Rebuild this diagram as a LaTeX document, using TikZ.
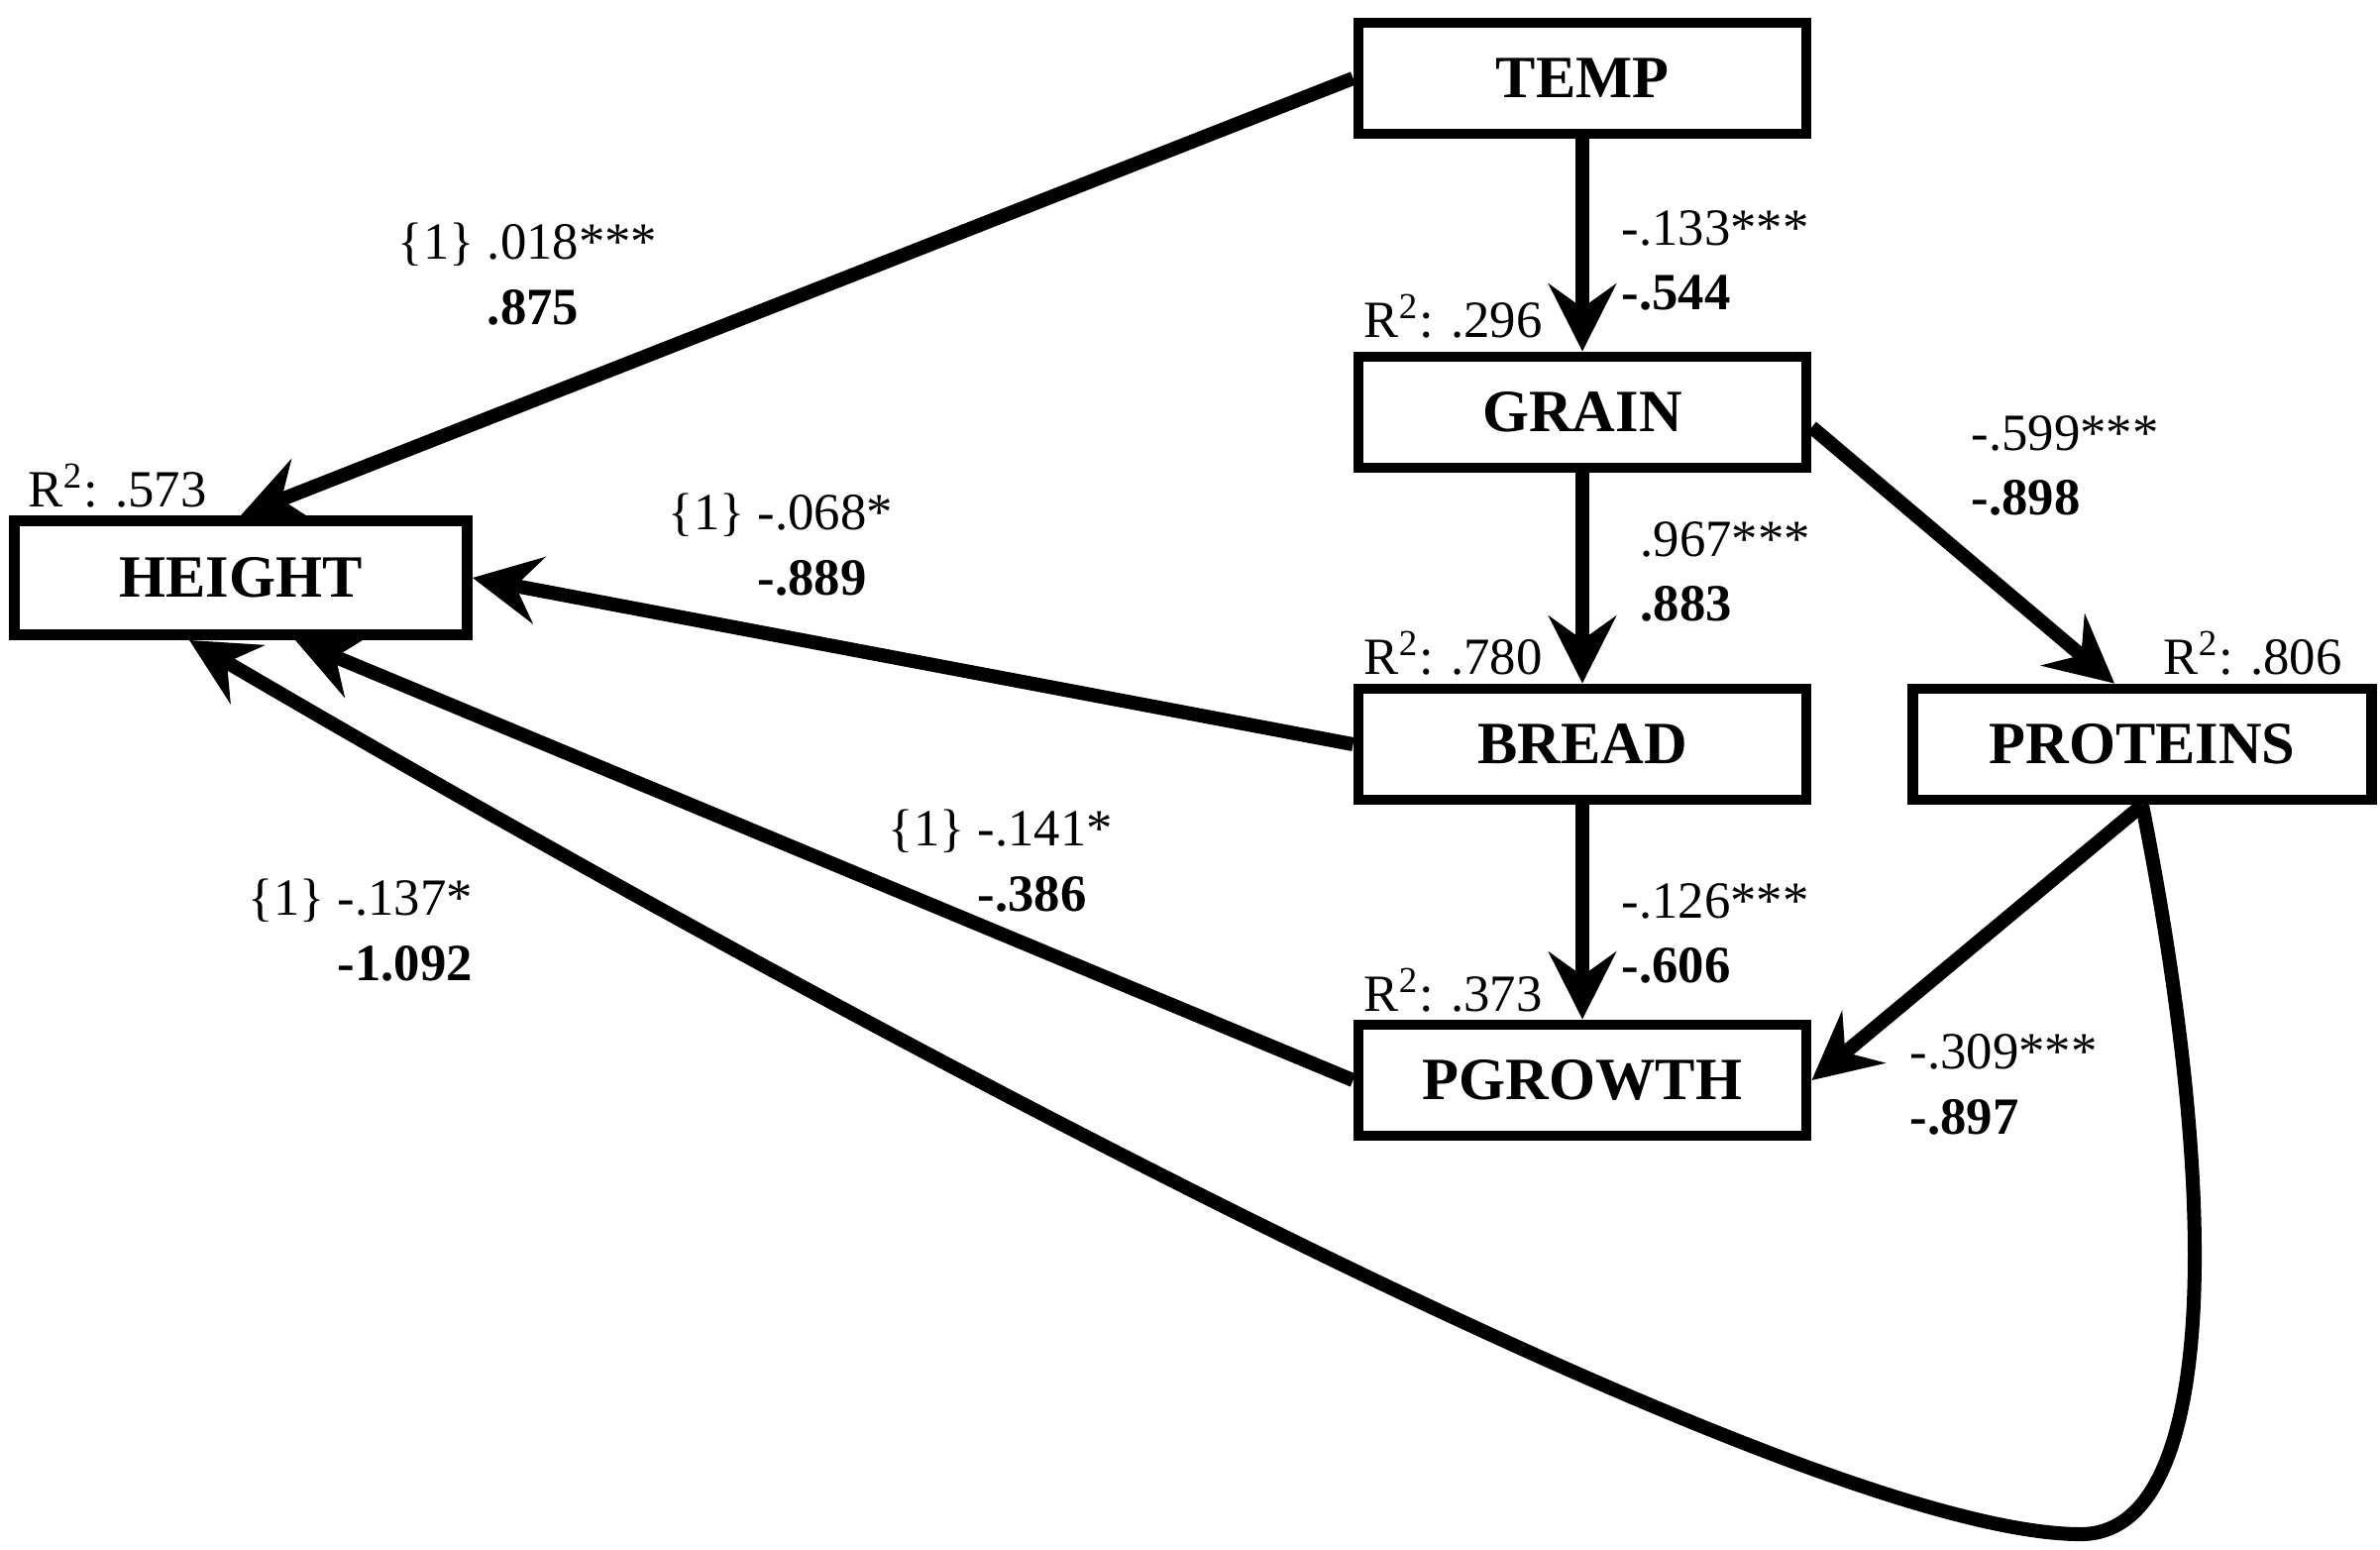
\documentclass[tikz,border=0pt]{standalone}
\usepackage{fontspec}
\setmainfont{Liberation Serif}
\usetikzlibrary{arrows.meta}

\tikzset{
  var/.style={draw, line width=3.1pt, minimum width=4.52cm, minimum height=1.12cm,
    inner sep=0pt, font=\fontsize{17.2}{20}\selectfont\bfseries},
  path/.style={line width=4pt, -{Stealth[length=6.8mm, width=6.8mm, inset=2.4mm]}},
  coef/.style={align=left, inner sep=0pt, anchor=west, font=\fontsize{15}{18.7}\selectfont},
  rsq/.style={inner sep=0pt, anchor=west, font=\fontsize{15}{17}\selectfont}
}

\begin{document}
\begin{tikzpicture}
    \useasboundingbox (0,0) rectangle (24.02,-15.63);
    %% Variables
    \node[var] (temp) at (15.97,-0.79) {TEMP};
    \node[var] (grain) at (15.97,-4.16) {GRAIN};
    \node[var] (bread) at (15.97,-7.51) {BREAD};
    \node[var] (pgrowth) at (15.97,-10.90) {PGROWTH};
    \node[var, minimum width=4.63cm] (proteins) at (21.62,-7.51) {PROTEINS};
    \node[var, minimum width=4.57cm, minimum height=1.15cm] (height) at (2.43,-5.83) {HEIGHT};
    %% R squared
    \node[rsq] (r2height) at (0.28,-4.90) {R\textsuperscript{2}: .573};
    \node[rsq] (r2grain) at (13.76,-3.19) {R\textsuperscript{2}: .296};
    \node[rsq] (r2bread) at (13.76,-6.59) {R\textsuperscript{2}: .780};
    \node[rsq] (r2proteins) at (21.83,-6.59) {R\textsuperscript{2}: .806};
    \node[rsq] (r2pgrowth) at (13.76,-9.99) {R\textsuperscript{2}: .373};
    %% Paths
    \draw[path] (temp.west) -- (height.north);
    \draw[path] (temp) -- (grain);
    \draw[path] (grain) -- (bread);
    \draw[path] (bread) -- (pgrowth);
    \draw[path] ([yshift=-0.15cm]grain.east) -- ([xshift=-0.28cm]proteins.north);
    \draw[path] (bread.west) -- (height.east);
    \draw[path] (pgrowth.west) -- ([xshift=0.55cm]height.south);
    \draw[path] (proteins.south) -- (pgrowth.east);
    \coordinate (bend) at (21.0,-15.48);
    \draw[path] (proteins.south) .. controls (22.45,-12.3) and (22.35,-15.48) .. (bend)
        .. controls (18.2,-15.48) and (8.8,-10.5) .. ([xshift=-0.52cm]height.south);
    %% Coefficients
    \node[coef] (ctempheight) at (4.01,-2.80) {\{1\} .018***\\\phantom{\{1\} }\textbf{.875}};
    \node[coef] (ctempgrain) at (16.36,-2.63) {-.133***\\\textbf{-.544}};
    \node[coef] (cgrainprot) at (19.89,-4.70) {-.599***\\\textbf{-.898}};
    \node[coef] (cbreadheight) at (6.74,-5.53) {\{1\} -.068*\\\phantom{\{1\} }\textbf{-.889}};
    \node[coef] (cgrainbread) at (16.55,-5.77) {.967***\\\textbf{.883}};
    \node[coef] (cpgheight) at (8.96,-8.72) {\{1\} -.141*\\\phantom{\{1\} }\textbf{-.386}};
    \node[coef] (cprotheight) at (2.50,-9.42) {\{1\} -.137*\\\phantom{\{1\} }\textbf{-1.092}};
    \node[coef] (cbreadpg) at (16.36,-9.42) {-.126***\\\textbf{-.606}};
    \node[coef] (cprotpg) at (19.27,-10.94) {-.309***\\\textbf{-.897}};
\end{tikzpicture}
\end{document}
